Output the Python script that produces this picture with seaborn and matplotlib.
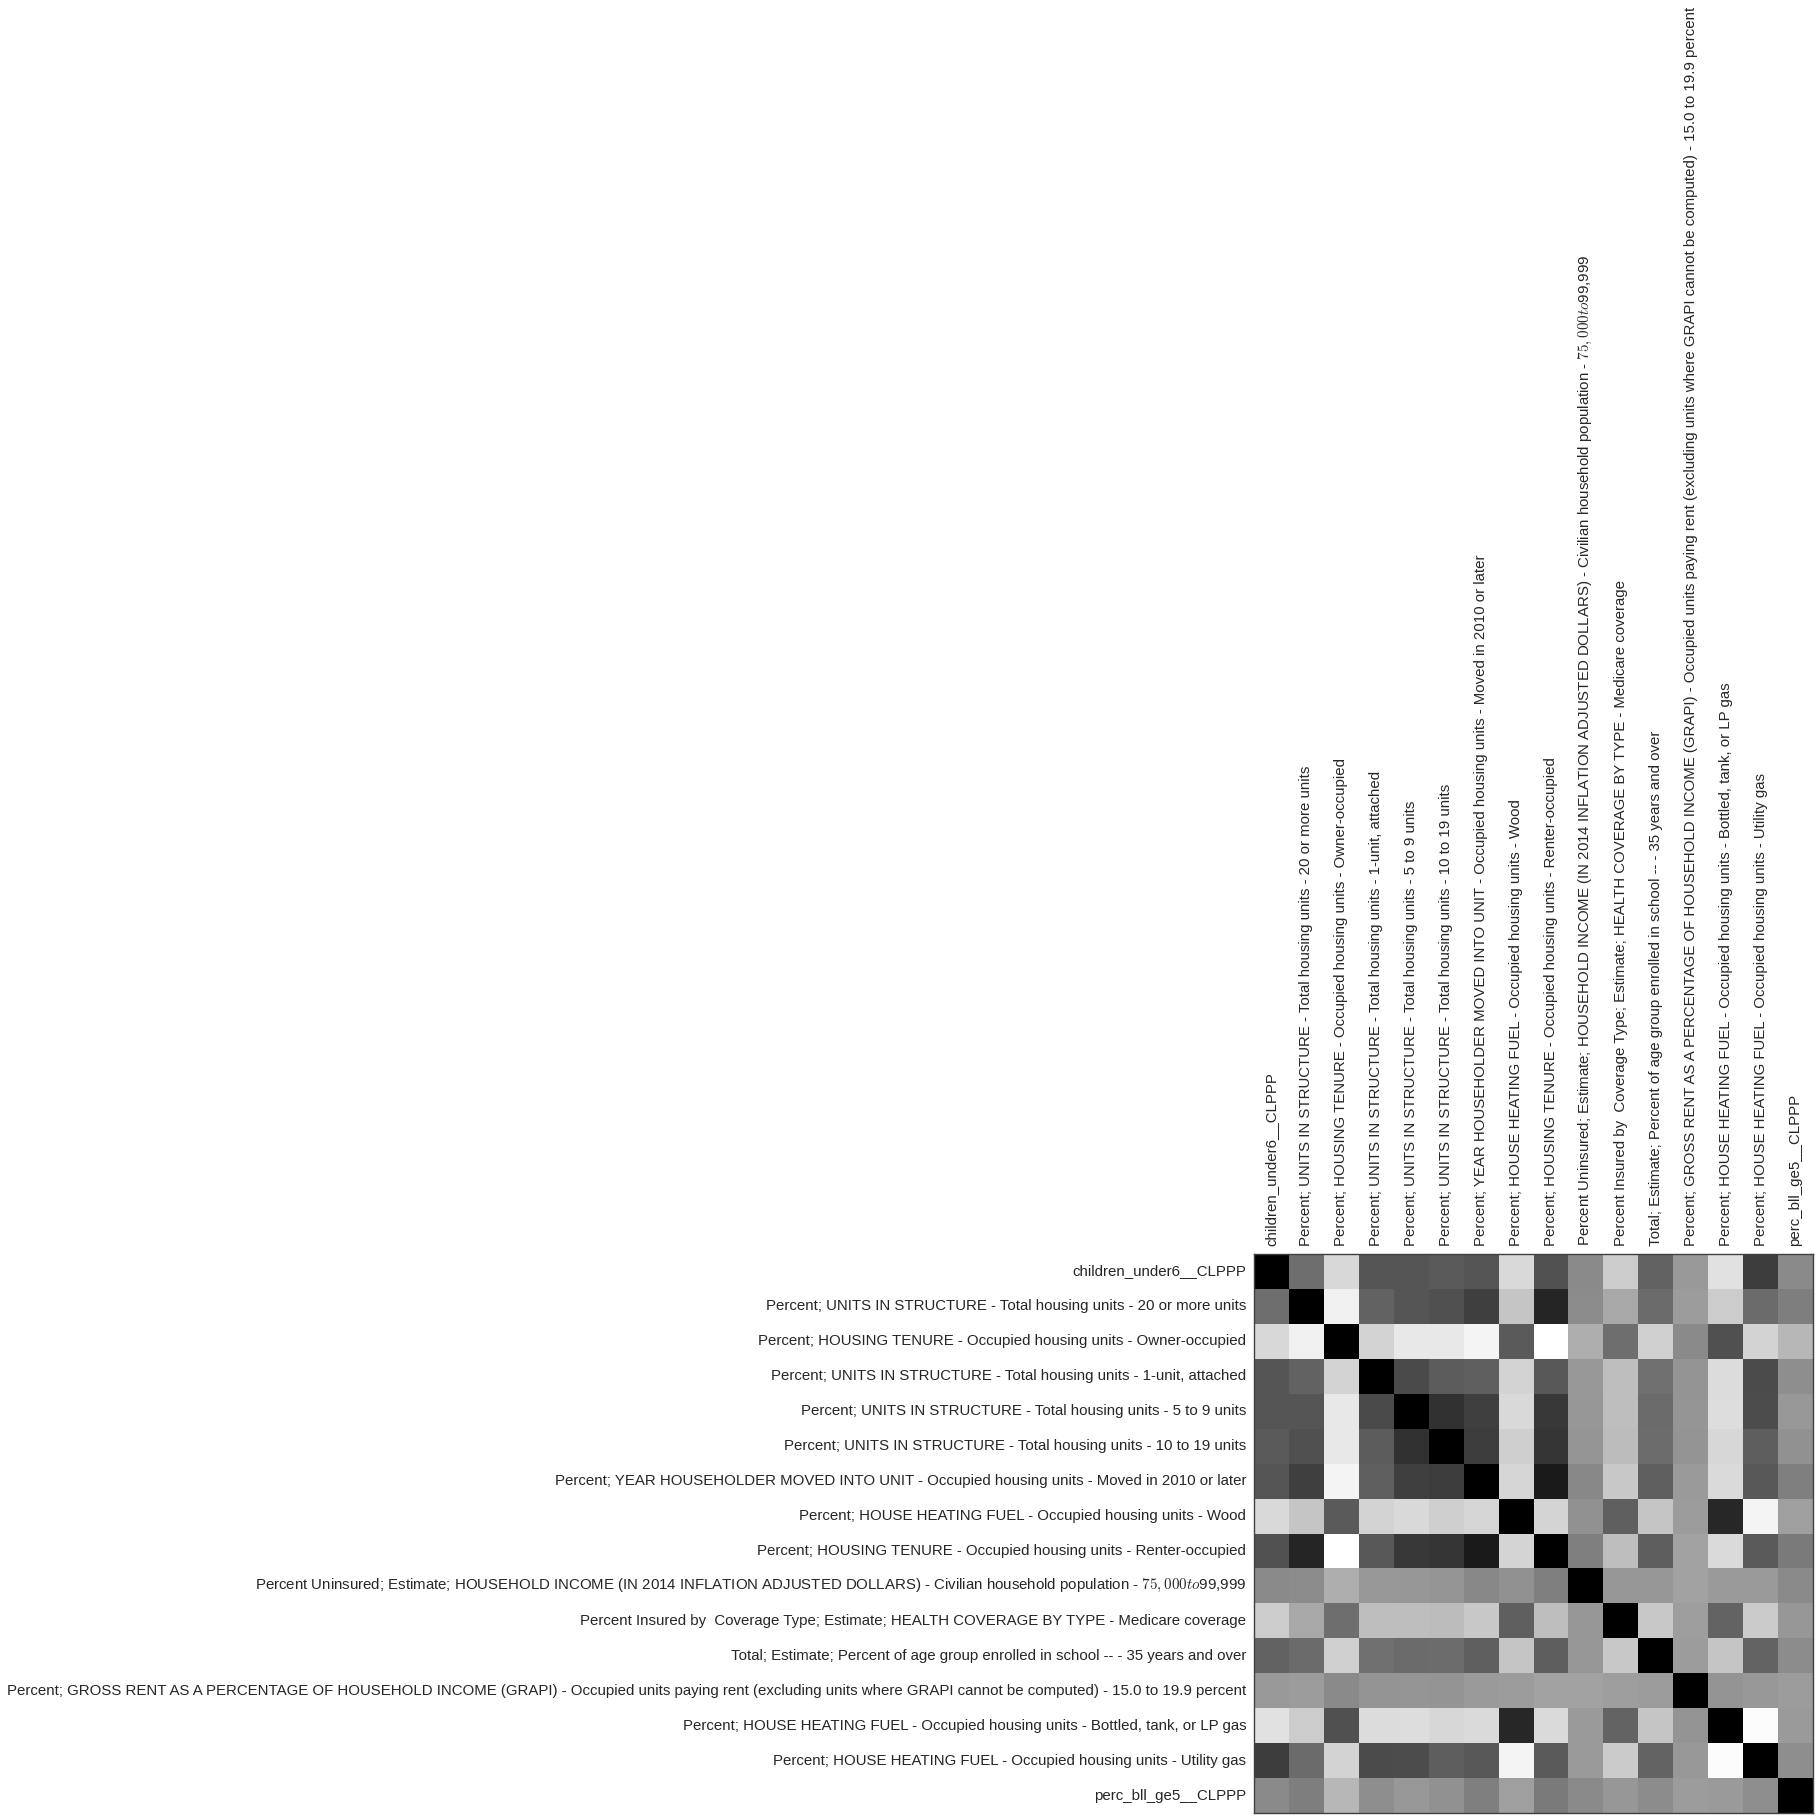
import numpy as np
import pandas as pd
import matplotlib
matplotlib.use("Agg")
import matplotlib.pyplot as plt
import seaborn as sns

# variable names (the $...$ part is rendered as mathtext, as in the original)
labels = [
    "children_under6__CLPPP",
    "Percent; UNITS IN STRUCTURE - Total housing units - 20 or more units",
    "Percent; HOUSING TENURE - Occupied housing units - Owner-occupied",
    "Percent; UNITS IN STRUCTURE - Total housing units - 1-unit, attached",
    "Percent; UNITS IN STRUCTURE - Total housing units - 5 to 9 units",
    "Percent; UNITS IN STRUCTURE - Total housing units - 10 to 19 units",
    "Percent; YEAR HOUSEHOLDER MOVED INTO UNIT - Occupied housing units - Moved in 2010 or later",
    "Percent; HOUSE HEATING FUEL - Occupied housing units - Wood",
    "Percent; HOUSING TENURE - Occupied housing units - Renter-occupied",
    "Percent Uninsured; Estimate; HOUSEHOLD INCOME (IN 2014 INFLATION ADJUSTED DOLLARS) - Civilian household population - $75,000 to $99,999",
    "Percent Insured by  Coverage Type; Estimate; HEALTH COVERAGE BY TYPE - Medicare coverage",
    "Total; Estimate; Percent of age group enrolled in school -- - 35 years and over",
    "Percent; GROSS RENT AS A PERCENTAGE OF HOUSEHOLD INCOME (GRAPI) - Occupied units paying rent (excluding units where GRAPI cannot be computed) - 15.0 to 19.9 percent",
    "Percent; HOUSE HEATING FUEL - Occupied housing units - Bottled, tank, or LP gas",
    "Percent; HOUSE HEATING FUEL - Occupied housing units - Utility gas",
    "perc_bll_ge5__CLPPP",
]

# upper triangle of the correlation matrix, row by row (from the diagonal)
r0 = [1.00, 0.14, -0.69, 0.33, 0.33, 0.29, 0.33, -0.70, 0.36, -0.08, -0.60, 0.23, -0.20, -0.76, 0.53, -0.08]
r1 = [1.00, -0.88, 0.23, 0.33, 0.37, 0.50, -0.54, 0.71, -0.10, -0.32, 0.16, -0.22, -0.60, 0.16, 0.01]
r2 = [1.00, -0.65, -0.82, -0.82, -0.91, 0.29, -1.00, -0.36, 0.14, -0.63, -0.08, 0.37, -0.65, -0.43]
r3 = [1.00, 0.42, 0.28, 0.25, -0.65, 0.31, -0.19, -0.49, 0.12, -0.16, -0.72, 0.41, -0.11]
r4 = [1.00, 0.61, 0.50, -0.70, 0.56, -0.18, -0.49, 0.16, -0.17, -0.73, 0.40, -0.19]
r5 = [1.00, 0.53, -0.62, 0.58, -0.17, -0.47, 0.15, -0.16, -0.68, 0.26, -0.14]
r6 = [1.00, -0.67, 0.79, -0.07, -0.57, 0.25, -0.21, -0.71, 0.31, 0.00]
r7 = [1.00, -0.66, -0.14, 0.25, -0.54, -0.22, 0.69, -0.91, -0.25]
r8 = [1.00, 0.00, -0.49, 0.26, -0.27, -0.71, 0.29, 0.04]
r9 = [1.00, -0.18, -0.18, -0.27, -0.21, -0.21, -0.08]
r10 = [1.00, -0.57, -0.24, 0.22, -0.59, -0.18]
r11 = [1.00, -0.22, -0.54, 0.22, -0.10]
r12 = [1.00, -0.16, -0.19, -0.22]
r13 = [1.00, -0.97, -0.21]
r14 = [1.00, -0.11]
r15 = [1.00]

rows = [r0, r1, r2, r3, r4, r5, r6, r7, r8, r9, r10, r11, r12, r13, r14, r15]
n = len(labels)
corr = np.zeros((n, n))
for i, row in enumerate(rows):
    corr[i, i:] = row
    corr[i:, i] = row
df = pd.DataFrame(corr, index=labels, columns=labels)

sns.set_style("white")
plt.rcParams["font.family"] = ["Liberation Sans", "DejaVu Sans"]
plt.rcParams["mathtext.fontset"] = "cm"

fig = plt.figure(figsize=(18.19, 18.19), dpi=100)
ax = fig.add_axes([1254 / 1819, 1 - 1813 / 1819, 559 / 1819, 559 / 1819])
sns.heatmap(df, ax=ax, cmap="gray_r", vmin=-1, vmax=1, cbar=False,
            xticklabels=labels, yticklabels=labels)

ax.xaxis.tick_top()
ax.set_xticklabels(labels, rotation=90)
ax.set_yticklabels(labels, rotation=0)
ax.tick_params(length=0, labelsize=10.8, pad=5.5, labelcolor=".15")
for s in ax.spines.values():
    s.set_visible(True)
    s.set_color(".25")
    s.set_linewidth(1)

fig.savefig("out.png", dpi=100)
